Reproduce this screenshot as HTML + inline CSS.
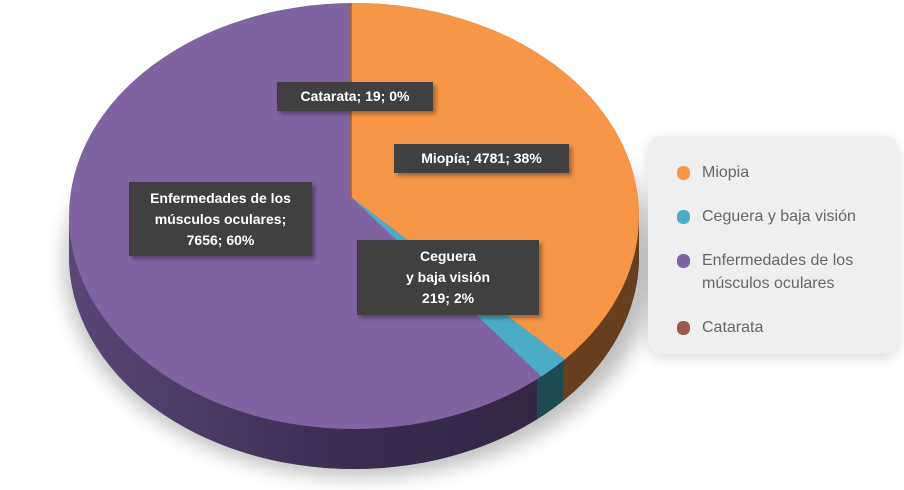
<!DOCTYPE html>
<html style="overflow:hidden;width:904px;height:490px"><head><meta charset="utf-8"><style>
body{margin:0;width:904px;height:490px;background:#fff;overflow:hidden;position:relative;font-family:"Liberation Sans",sans-serif}
.lb{position:absolute;background:#404040;color:#fff;font-weight:bold;font-size:14px;text-align:center;line-height:20px;box-shadow:3px 3px 4px rgba(0,0,0,.35);box-sizing:border-box}
.lg{position:absolute;left:648px;top:136px;width:250px;height:218px;background:#efefef;border-radius:14px;box-shadow:0 4px 14px rgba(0,0,0,.15)}
.it{position:absolute;left:54px;color:#666;font-size:16px;line-height:23px}
.dot{position:absolute;left:29px;width:13px;height:14px;border-radius:6px}
svg{overflow:hidden}
</style></head><body>
<svg width="904" height="490" style="position:absolute;left:0;top:0">
<defs>
<filter id="sh" x="-20%" y="-20%" width="140%" height="140%"><feGaussianBlur stdDeviation="10"/></filter>
<clipPath id="top"><ellipse cx="354" cy="216" rx="285" ry="213"/></clipPath>
<linearGradient id="sg" x1="0" x2="1"><stop offset="0" stop-color="#5a4677"/><stop offset="0.5" stop-color="#3a2c4f"/><stop offset="1" stop-color="#2f233f"/></linearGradient>
</defs>
<ellipse cx="360" cy="265" rx="295" ry="212" fill="#000" opacity="0.25" filter="url(#sh)"/>
<path d="M69 216 A285 213 0 0 0 639 216 L639 256 A285 213 0 0 1 69 256 Z" fill="url(#sg)"/>
<ellipse cx="354" cy="256" rx="285" ry="213" fill="url(#sg)"/>
<clipPath id="side"><path d="M69 216 A285 213 0 0 0 639 216 L639 256 A285 213 0 0 1 69 256 Z"/><ellipse cx="354" cy="256" rx="285" ry="213"/></clipPath>
<g clip-path="url(#side)">
<rect x="563" y="0" width="200" height="490" fill="#673f1e"/>
<rect x="537" y="0" width="26" height="490" fill="#1e4a52"/>
</g>
<g clip-path="url(#top)">
<rect x="0" y="0" width="904" height="490" fill="#8064a2"/>
<polygon points="351,197 351,-50 900,-50 900,519 775,519" fill="#f79646"/>
<polygon points="351,197 775,519 729,553" fill="#4bacc6"/>
<line x1="351" y1="197" x2="351" y2="0" stroke="#b0621f" stroke-width="1.5"/>
</g>
</svg>
<div class="lb" style="left:277px;top:82px;width:156px;height:29px;line-height:29px">Catarata; 19; 0%</div>
<div class="lb" style="left:394px;top:144px;width:175px;height:29px;line-height:29px">Miopía; 4781; 38%</div>
<div class="lb" style="left:129px;top:182px;width:183px;height:74px;padding-top:6px;line-height:21px">Enfermedades de los<br>músculos oculares;<br>7656; 60%</div>
<div class="lb" style="left:357px;top:240px;width:182px;height:75px;padding-top:6px;line-height:21px">Ceguera<br>y baja visión<br>219; 2%</div>
<div class="lg">
<div class="dot" style="top:30px;background:#f79646"></div><div class="it" style="top:25px">Miopia</div>
<div class="dot" style="top:74px;background:#4bacc6"></div><div class="it" style="top:69px">Ceguera y baja visión</div>
<div class="dot" style="top:118px;background:#8064a2"></div><div class="it" style="top:113px">Enfermedades de los<br>músculos oculares</div>
<div class="dot" style="top:185px;background:#9b5a50"></div><div class="it" style="top:180px">Catarata</div>
</div>
</body></html>
